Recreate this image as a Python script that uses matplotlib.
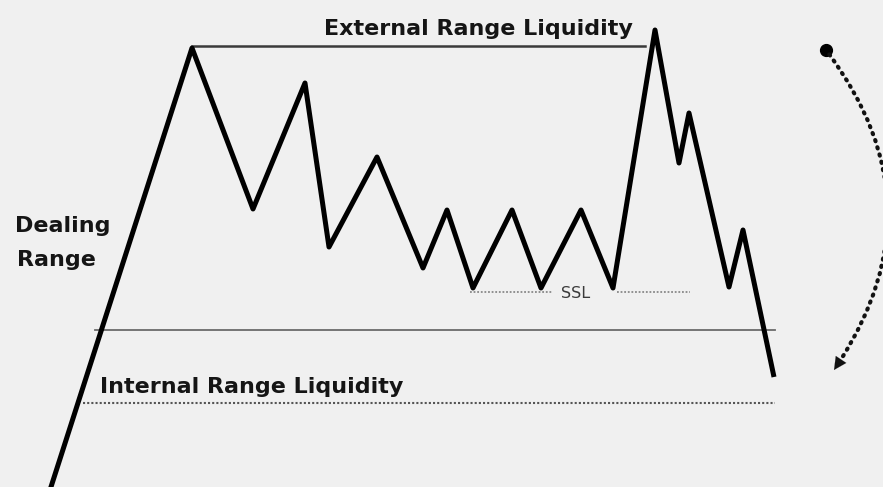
import matplotlib.pyplot as plt

# zigzag price path (x, y in picture units, y grows downward)
path_x = [50, 192, 253, 305, 329, 377, 423, 447, 473, 512, 541, 581, 613, 655, 679, 689, 729, 743, 774]
path_y = [490, 48, 209, 83, 247, 157, 268, 210, 288, 210, 288, 210, 288, 30, 163, 113, 287, 230, 377]

ext_line = ([192, 645], [46, 46])
ssl_left = ([470, 552], [292, 292])
ssl_right = ([617, 690], [292, 292])
mid_line = ([95, 775], [330, 330])
int_line = ([83, 775], [403, 403])

arc_start = (826, 50)
arc_end = (834, 370)
head_from = (846, 352)

bg = "#f0f0f0"
plt.rcParams["font.family"] = ["DejaVu Sans"]

fig = plt.figure(figsize=(8.83, 4.87), dpi=100, facecolor=bg)
ax = fig.add_axes([0, 0, 1, 1])
ax.set_facecolor(bg)
ax.set_xlim(0, 883)
ax.set_ylim(487, 0)
ax.axis("off")

ax.plot(*ext_line, color="#3a3a3a", lw=1.8)
ax.plot(*mid_line, color="#6a6a6a", lw=1.3)
ax.plot(*ssl_left, color="#888888", lw=1.3, ls=(0, (1, 1)))
ax.plot(*ssl_right, color="#888888", lw=1.3, ls=(0, (1, 1)))
ax.plot(*int_line, color="#555555", lw=1.5, ls=(0, (1, 1)))

ax.plot(path_x, path_y, color="black", lw=3.6, solid_joinstyle="round", solid_capstyle="butt")

tkw = dict(fontsize=16, fontweight="bold", va="baseline", color="#151515")
ax.text(478, 35, "External Range Liquidity", ha="center", **tkw)
ax.text(15, 232, "Dealing", ha="left", **tkw)
ax.text(17, 266, "Range", ha="left", **tkw)
ax.text(100, 393, "Internal Range Liquidity", ha="left", **tkw)
ax.text(576, 298, "SSL", fontsize=11.5, ha="center", va="baseline", color="#3a3a3a")

# dotted curved arrow
ax.plot(*arc_start, "o", color="black", ms=8.5)
ax.annotate("", xy=arc_end, xytext=arc_start,
            arrowprops=dict(arrowstyle="-", color="#111111", lw=3.0, ls=(0, (0.3, 1.5)),
                            capstyle="round",
                            connectionstyle="arc3,rad=-0.36", shrinkA=4, shrinkB=8))
ax.annotate("", xy=arc_end, xytext=head_from,
            arrowprops=dict(arrowstyle="-|>,head_length=0.9,head_width=0.45", color="#111111",
                            lw=0.1, shrinkA=8, shrinkB=0))

fig.savefig("out.png", dpi=100, facecolor=bg)
